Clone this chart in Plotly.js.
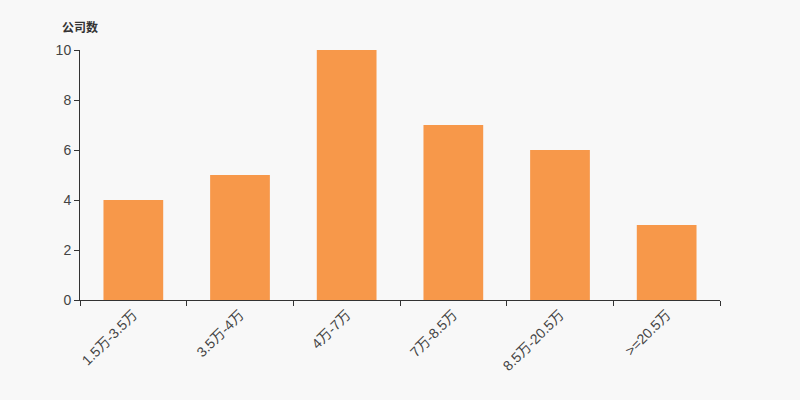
<!DOCTYPE html>
<html><head><meta charset="utf-8">
<script src="https://cdn.plot.ly/plotly-3.0.1.min.js"></script>
<style>html,body{margin:0;padding:0;background:#f8f8f8}</style>
</head><body><div id="chart" style="width:800px;height:400px"></div>
<script>
const categories = ["1.5万-3.5万", "3.5万-4万", "4万-7万", "7万-8.5万", "8.5万-20.5万", ">=20.5万"];
const companyCounts = [4, 5, 10, 7, 6, 3];
const yTitle = "公司数";
const font = "'Liberation Sans', 'Noto Sans CJK SC', sans-serif";

Plotly.newPlot("chart", [{
  type: "bar",
  x: categories,
  y: companyCounts,
  marker: {color: "#f7984a", line: {width: 0}},
  hoverinfo: "x+y"
}], {
  width: 800, height: 400,
  paper_bgcolor: "#f8f8f8", plot_bgcolor: "#f8f8f8",
  margin: {l: 80, r: 80, t: 50, b: 100},
  bargap: 0.44,
  font: {family: font, size: 13, color: "#333"},
  showlegend: false,
  xaxis: {
    type: "category",
    showline: true, linecolor: "#333", linewidth: 1,
    ticks: "outside", tickson: "boundaries", ticklen: 5, tickcolor: "#333",
    tickangle: -45, showgrid: false, zeroline: false,
    tickfont: {family: font, size: 14, color: "#444"}
  },
  yaxis: {
    range: [0, 10], dtick: 2,
    showline: true, linecolor: "#333", linewidth: 1,
    ticks: "outside", ticklen: 5, tickcolor: "#333",
    showgrid: false, zeroline: false,
    tickfont: {family: font, size: 14, color: "#444"}
  },
  annotations: [{
    text: "<b>" + yTitle + "</b>", xref: "paper", yref: "paper",
    x: 0, y: 1, xshift: -20, yshift: 23, xanchor: "left", yanchor: "middle",
    showarrow: false, font: {family: font, size: 12, color: "#333"}
  }]
}, {displayModeBar: false});
</script></body></html>
